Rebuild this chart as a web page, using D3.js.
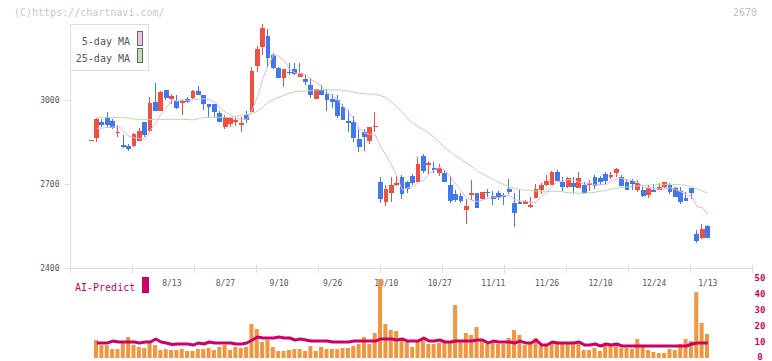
<!DOCTYPE html>
<html>
<head>
<meta charset="utf-8">
<script src="https://cdn.jsdelivr.net/npm/d3@7"></script>
<style>
body { margin: 0; background: #fff; }
svg { display: block; font-family: "DejaVu Sans Mono", monospace; }
</style>
</head>
<body>
<script>
// Data // ---------------------------------------------------------------------
var dates = ["7/22","7/23","7/24","7/25","7/28","7/29","7/30","7/31","8/1","8/4",
  "8/5","8/6","8/7","8/8","8/12","8/13","8/14","8/15","8/18","8/19",
  "8/20","8/21","8/22","8/25","8/26","8/27","8/28","8/29","9/1","9/2",
  "9/3","9/4","9/5","9/8","9/9","9/10","9/11","9/12","9/16","9/17",
  "9/18","9/19","9/22","9/24","9/25","9/26","9/29","9/30","10/1","10/2",
  "10/3","10/6","10/7","10/8","10/9","10/10","10/14","10/15","10/16","10/17",
  "10/20","10/21","10/22","10/23","10/24","10/27","10/28","10/29","10/30","10/31",
  "11/4","11/5","11/6","11/7","11/10","11/11","11/12","11/13","11/14","11/17",
  "11/18","11/19","11/20","11/21","11/25","11/26","11/27","11/28","12/1","12/2",
  "12/3","12/4","12/5","12/8","12/9","12/10","12/11","12/12","12/15","12/16",
  "12/17","12/18","12/19","12/22","12/23","12/24","12/25","12/26","12/29","12/30",
  "1/5","1/6","1/7","1/8","1/9","1/13"];

var open = [2857,2865,2921,2936,2926,2884,2838,2836,2836,2855,
  2921,2889,2993,2962,3035,3005,2996,2988,3004,3007,
  3032,3018,2986,2986,2954,2902,2913,2920,2912,2946,
  2958,3123,3189,3229,3161,3113,3077,3099,3109,3081,
  3074,3054,3005,3036,3021,3005,3000,2974,2925,2921,
  2861,2886,2855,2904,2707,2637,2667,2697,2725,2707,
  2729,2707,2800,2769,2757,2739,2739,2697,2664,2657,
  2607,2662,2669,2648,2673,2657,2668,2661,2682,2632,
  2636,2629,2618,2650,2680,2697,2697,2743,2707,2691,
  2705,2687,2697,2698,2725,2722,2736,2724,2741,2725,
  2707,2711,2679,2679,2662,2680,2680,2691,2697,2686,
  2675,2650,2686,2521,2507,2550];

var high = [2857,2935,2932,2957,2933,2910,2875,2843,2881,2899,
  2921,3012,3061,3032,3035,3021,3018,2999,3012,3036,
  3050,3018,2986,2986,2961,2946,2939,2937,2940,2962,
  3119,3193,3271,3253,3167,3118,3109,3131,3131,3131,
  3089,3077,3038,3054,3038,3021,3018,2986,2964,2943,
  2896,2898,2904,2957,2725,2697,2726,2732,2732,2711,
  2736,2798,2807,2783,2779,2771,2750,2730,2679,2669,
  2647,2714,2669,2673,2683,2676,2676,2668,2718,2668,
  2682,2643,2655,2700,2702,2732,2747,2750,2726,2726,
  2726,2743,2707,2714,2732,2729,2743,2743,2757,2732,
  2718,2719,2714,2694,2697,2700,2704,2707,2702,2691,
  2691,2673,2686,2536,2557,2554];

var low = [2857,2851,2905,2902,2898,2869,2827,2819,2833,2852,
  2869,2886,2962,2962,3000,2986,2969,2948,2988,3002,
  3017,2964,2937,2940,2923,2896,2902,2907,2886,2918,
  2958,3101,3159,3113,3109,3077,3048,3088,3089,3081,
  3054,3006,3005,3017,2962,2970,2935,2929,2887,2850,
  2813,2817,2843,2887,2633,2623,2637,2694,2648,2667,
  2697,2707,2741,2733,2738,2729,2707,2631,2635,2633,
  2557,2643,2614,2647,2655,2625,2643,2625,2664,2547,
  2629,2627,2614,2650,2664,2694,2697,2711,2676,2687,
  2667,2687,2669,2676,2683,2698,2701,2717,2726,2694,
  2680,2680,2673,2655,2651,2673,2680,2687,2666,2655,
  2630,2639,2648,2490,2504,2507];

var close = [2857,2931,2912,2912,2901,2886,2832,2825,2879,2889,
  2875,2989,2962,3029,3007,3013,2971,2996,2994,3032,
  3019,2986,2976,2956,2923,2939,2937,2930,2918,2930,
  3104,3182,3257,3149,3113,3077,3109,3095,3092,3095,
  3065,3018,3038,3019,3000,2994,2944,2929,2919,2864,
  2832,2868,2904,2907,2648,2682,2698,2702,2666,2683,
  2705,2771,2747,2776,2751,2757,2707,2639,2643,2639,
  2623,2668,2614,2673,2669,2647,2650,2654,2672,2597,
  2629,2641,2625,2682,2697,2711,2743,2711,2691,2722,
  2691,2722,2669,2705,2693,2707,2712,2731,2754,2694,
  2680,2701,2704,2658,2686,2673,2690,2707,2673,2655,
  2636,2639,2669,2497,2539,2507];

var ma5 = [null,2899,2900,2902,2903,2908,2889,2871,2865,2862,
  2860,2891,2919,2949,2972,3000,2996,3003,2996,3001,
  3002,3005,3001,2994,2972,2956,2946,2937,2929,2931,
  2964,3013,3078,3124,3161,3156,3141,3109,3097,3094,
  3091,3073,3062,3047,3028,3014,2999,2977,2957,2930,
  2898,2882,2877,2875,2832,2802,2768,2727,2679,2686,
  2691,2705,2714,2736,2750,2760,2748,2726,2699,2677,
  2650,2642,2637,2643,2649,2654,2651,2659,2658,2644,
  2640,2639,2633,2635,2655,2671,2692,2709,2711,2716,
  2712,2707,2699,2702,2696,2699,2697,2710,2719,2720,
  2714,2712,2707,2687,2686,2684,2682,2683,2686,2680,
  2672,2662,2654,2619,2616,2590];

var ma25 = [null,2937,2937,2937,2937,2937,2937,2935,2932,2931,
  2931,2931,2931,2931,2931,2931,2931,2931,2930,2929,
  2933,2937,2938,2938,2938,2938,2938,2942,2946,2948,
  2952,2960,2975,2992,3002,3010,3017,3024,3030,3031,
  3032,3034,3036,3036,3036,3036,3036,3034,3032,3028,
  3024,3022,3021,3020,3015,3008,2993,2976,2957,2932,
  2917,2905,2893,2880,2866,2848,2828,2815,2800,2787,
  2774,2762,2746,2736,2726,2716,2706,2698,2690,2684,
  2680,2678,2677,2675,2674,2674,2674,2674,2672,2669,
  2667,2667,2667,2668,2671,2674,2677,2681,2685,2688,
  2690,2692,2693,2695,2696,2697,2698,2699,2699,2698,
  2697,2695,2690,2682,2675,2667];

var volume = [null,11.25,8.1,8.1,5.6,5.6,9.6,13.1,8.1,6.9,
  6.25,9.4,8.1,5,5.6,5,5,5.6,4.4,4.4,
  5.6,5.6,6.25,5,6.9,8.1,5,6.9,6.25,6.9,
  21.25,18.1,10,11.25,6.9,4.4,4.4,5,5.6,5.6,
  4.4,7.5,4.4,6.9,5.6,5.6,5.6,6.25,6.25,7.5,
  8.75,13.1,8.75,15.6,49.4,21.25,17.5,16.9,11.25,10,
  6.9,11.25,11.9,8.75,8.75,9.4,10.6,10,33.1,10,
  15.6,14.4,19.4,11.25,8.75,10,8.75,8.75,12.5,17.5,
  14.4,8.1,8.75,12.5,7.5,8.75,10,9.4,9.4,9.4,
  8.75,8.75,5,5,6.25,4.4,8.1,7.5,8.1,6.25,
  6.25,5.6,11.9,6.9,5,3.75,3.1,3.1,5.6,5,
  8.75,11.9,10.6,41.25,21.9,15];

var aiPredict = [null,9.4,9.4,9.4,10.6,10,10,10,10,9.4,
  10,10,11.9,10,9.4,8.4,8.75,8.75,8.75,8.1,
  9.4,8.75,10,9.4,9.4,9.4,9.4,8.75,8.75,9.4,
  11.25,13.1,12.5,12.5,12.5,13.1,12.5,12.5,11.25,11.9,
  11.25,10.6,10.6,10.6,10.6,10,10,10,10,10.6,
  10.6,10.6,10.6,10.6,11.9,11.9,11.9,11.25,11.9,10.6,
  10.6,10.6,12.5,10.6,10.6,11.25,10,10,10.6,10.6,
  10.6,10.6,11.25,11.25,9.4,10.6,10,10,10,9.4,
  10.6,9.4,9.4,11.25,8.1,8.1,10,9.4,9.4,9.4,
  9.4,10,8.1,8.1,8.75,7.5,8.75,8.1,8.75,7.5,
  7.5,7.5,7.5,7.5,7.5,7.5,7.5,7.5,7.5,7.5,
  7.5,7.5,8.75,9.4,9.4,9.4];

var priceTicks = [2400, 2700, 3000];
var volumeTicks = [0, 10, 20, 30, 40, 50];
var labelIndex = [15, 25, 35, 45, 55, 65, 75, 85, 95, 105, 115]; // every 10th session

// Key Functions and Variables // ----------------------------------------------
var width = 772, height = 361;
var up = "#f05040", down = "#4078f0";
var aiColor = "#cc0066";

var svg = d3.select("body").append("svg")
            .attr("width", width)
            .attr("height", height);

var x = d3.scaleLinear().domain([-4, 123.25]).range([70, 752]),   // candle index -> px
    y = d3.scaleLinear().domain([2400, 3000]).range([268, 100]),  // price
    yv = d3.scaleLinear().domain([0, 50]).range([358, 278]),      // volume / AI panel
    grid = d3.scaleLinear().domain([0, 11]).range([70, 752]);     // bottom tick marks

var idx = d3.range(close.length);

// header texts
svg.append("text").attr("x", 14).attr("y", 16)
   .attr("font-size", 10).attr("fill", "#c8c8c8")
   .text("(C)https://chartnavi.com/");
svg.append("text").attr("x", 757).attr("y", 16).attr("text-anchor", "end")
   .attr("font-size", 10).attr("fill", "#c0c0c0")
   .text("2670");

// left axis
svg.append("line")
   .attr("x1", 70.5).attr("x2", 70.5).attr("y1", 24).attr("y2", 268)
   .attr("stroke", "#dedede");

var yAxis = svg.append("g")
   .attr("transform", "translate(70.5,0)")
   .call(d3.axisLeft(y)
           .tickValues(priceTicks)
           .tickSize(6)
           .tickPadding(5)
           .tickFormat(d3.format("d")));
yAxis.select(".domain").remove();
yAxis.selectAll("line").attr("stroke", "#dedede");
yAxis.selectAll("text")
     .attr("fill", "#555")
     .attr("font-size", 8)
     .attr("font-family", "DejaVu Sans Mono, monospace");

// bottom axis line with tick marks crossing it
svg.append("line")
   .attr("x1", 70).attr("x2", 752).attr("y1", 268.5).attr("y2", 268.5)
   .attr("stroke", "#dedede");
svg.selectAll(".gridtick")
   .data(d3.range(12))
   .enter().append("line")
   .attr("class", "gridtick")
   .attr("x1", function(d){ return Math.round(grid(d)) + 0.5; })
   .attr("x2", function(d){ return Math.round(grid(d)) + 0.5; })
   .attr("y1", 265).attr("y2", 273)
   .attr("stroke", "#dedede");

// date labels
svg.selectAll(".datelabel")
   .data(labelIndex)
   .enter().append("text")
   .attr("class", "datelabel")
   .attr("x", function(d){ return x(d); })
   .attr("y", 286)
   .attr("text-anchor", "middle")
   .attr("font-size", 8)
   .attr("fill", "#555")
   .text(function(d){ return dates[d]; });

// volume bars
svg.append("g").selectAll("rect")
   .data(idx.filter(function(i){ return volume[i] != null; }))
   .enter().append("rect")
   .attr("x", function(i){ return x(i) - 2.8; })
   .attr("width", 4)
   .attr("y", function(i){ return yv(volume[i]); })
   .attr("height", function(i){ return yv(0) - yv(volume[i]); })
   .attr("fill", "#f09640");

// AI-Predict line
var aiLine = d3.line()
               .defined(function(d){ return d != null; })
               .x(function(d, i){ return x(i); })
               .y(function(d){ return yv(d); });
svg.append("path")
   .datum(aiPredict)
   .attr("d", aiLine)
   .attr("fill", "none")
   .attr("stroke", aiColor)
   .attr("stroke-width", 3)
   .attr("stroke-linejoin", "round");

// right axis labels (volume panel)
svg.selectAll(".vlabel")
   .data(volumeTicks)
   .enter().append("text")
   .attr("class", "vlabel")
   .attr("x", 760)
   .attr("y", function(d){ return Math.min(yv(d) + 3, 359.5); })
   .attr("text-anchor", "middle")
   .attr("font-size", 9)
   .attr("font-weight", "bold")
   .attr("fill", aiColor)
   .text(function(d){ return d; });

// AI-Predict legend
svg.append("text").attr("x", 75).attr("y", 291)
   .attr("font-size", 10).attr("fill", aiColor)
   .text("AI-Predict");
svg.append("rect").attr("x", 142).attr("y", 277).attr("width", 7).attr("height", 16)
   .attr("fill", aiColor);

// candles
var candles = svg.append("g").attr("shape-rendering", "crispEdges");
candles.selectAll(".wick")
   .data(idx)
   .enter().append("line")
   .attr("class", "wick")
   .attr("x1", function(i){ return Math.round(x(i)) - 0.5; })
   .attr("x2", function(i){ return Math.round(x(i)) - 0.5; })
   .attr("y1", function(i){ return y(high[i]); })
   .attr("y2", function(i){ return y(low[i]); })
   .attr("stroke", function(i){ return close[i] >= open[i] ? up : down; });
candles.selectAll(".body")
   .data(idx)
   .enter().append("rect")
   .attr("class", "body")
   .attr("x", function(i){ return x(i) - 2.7; })
   .attr("width", 4.8)
   .attr("y", function(i){ return y(Math.max(open[i], close[i])); })
   .attr("height", function(i){ return Math.max(1.2, Math.abs(y(open[i]) - y(close[i]))); })
   .attr("fill", function(i){ return close[i] >= open[i] ? up : down; });

// moving averages
var maLine = d3.line()
               .defined(function(d){ return d != null; })
               .x(function(d, i){ return x(i); })
               .y(function(d){ return y(d); });
svg.append("path").datum(ma25).attr("d", maLine)
   .attr("fill", "none").attr("stroke", "#b4dca4").attr("stroke-width", 1);
svg.append("path").datum(ma5).attr("d", maLine)
   .attr("fill", "none").attr("stroke", "#e8b4ec").attr("stroke-width", 1);

// MA legend box
var legend = svg.append("g");
legend.append("rect")
      .attr("x", 70.5).attr("y", 24.5).attr("width", 78).attr("height", 46)
      .attr("fill", "#fff").attr("stroke", "#dedede");
var legendItems = [["5-day MA", "#f0c0f0", 45], ["25-day MA", "#bfe0b0", 62]];
legendItems.forEach(function(d){
    legend.append("text")
          .attr("x", 130).attr("y", d[2]).attr("text-anchor", "end")
          .attr("font-size", 10).attr("fill", "#555")
          .text(d[0]);
    legend.append("rect")
          .attr("x", 137.5).attr("y", d[2] - 13.5).attr("width", 5).attr("height", 14)
          .attr("fill", d[1]).attr("stroke", "#666");
});
</script>
</body>
</html>
